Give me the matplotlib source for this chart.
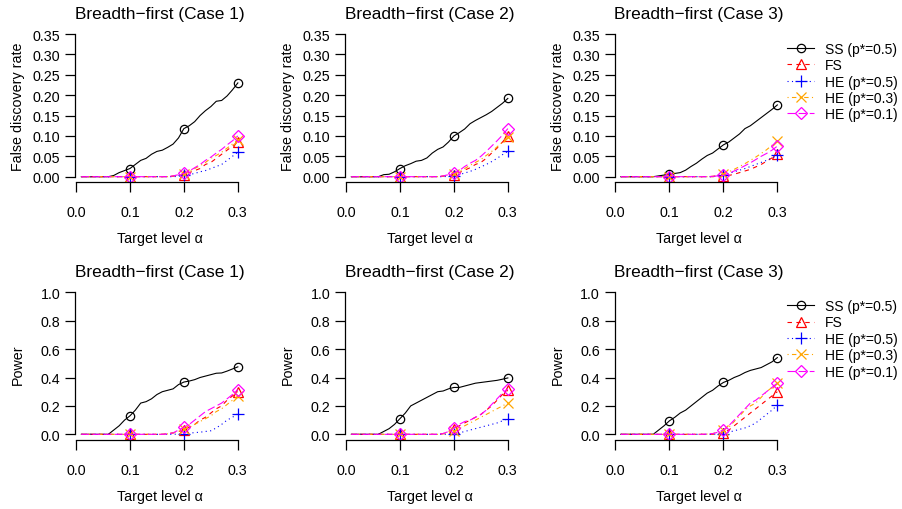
import numpy as np
import matplotlib
matplotlib.use("Agg")
import matplotlib.pyplot as plt

plt.rcParams['font.family'] = ['Liberation Sans', 'DejaVu Sans']

alpha = np.round(np.arange(1, 31) * 0.01, 2)

# ---- False discovery rate ----
fdr1_ss = [0, 0, 0, 0, 0, 0, 0.003, 0.01, 0.015, 0.02, 0.03, 0.04, 0.045, 0.055, 0.062, 0.065, 0.072, 0.08, 0.095, 0.118,
           0.125, 0.135, 0.15, 0.162, 0.172, 0.185, 0.187, 0.198, 0.213, 0.23]
fdr1_fs = [0, 0, 0, 0, 0, 0, 0, 0, 0, 0, 0, 0, 0, 0, 0, 0, 0, 0.001, 0.003, 0.005,
           0.01, 0.015, 0.02, 0.03, 0.035, 0.045, 0.055, 0.065, 0.075, 0.085]
fdr1_he5 = [0, 0, 0, 0, 0, 0, 0, 0, 0, 0, 0, 0, 0, 0, 0, 0, 0, 0, 0.001, 0.003,
            0.005, 0.008, 0.012, 0.015, 0.02, 0.025, 0.03, 0.04, 0.05, 0.06]
fdr1_he3 = [0, 0, 0, 0, 0, 0, 0, 0, 0, 0, 0, 0, 0, 0, 0, 0, 0, 0.002, 0.004, 0.007,
            0.012, 0.02, 0.027, 0.035, 0.045, 0.052, 0.06, 0.07, 0.08, 0.09]
fdr1_he1 = [0, 0, 0, 0, 0, 0, 0, 0, 0, 0, 0, 0, 0, 0, 0, 0, 0, 0.002, 0.005, 0.008,
            0.014, 0.022, 0.03, 0.04, 0.048, 0.058, 0.067, 0.078, 0.088, 0.1]

fdr2_ss = [0, 0, 0, 0, 0, 0, 0.005, 0.006, 0.012, 0.02, 0.027, 0.032, 0.038, 0.04, 0.046, 0.058, 0.067, 0.073, 0.085, 0.1,
           0.108, 0.117, 0.13, 0.138, 0.145, 0.152, 0.16, 0.17, 0.18, 0.192]
fdr2_fs = [0, 0, 0, 0, 0, 0, 0, 0, 0, 0, 0, 0, 0, 0, 0, 0, 0, 0.001, 0.003, 0.005,
           0.01, 0.016, 0.022, 0.03, 0.035, 0.045, 0.058, 0.07, 0.085, 0.1]
fdr2_he5 = [0, 0, 0, 0, 0, 0, 0, 0, 0, 0, 0, 0, 0, 0, 0, 0, 0, 0, 0.001, 0.002,
            0.005, 0.009, 0.013, 0.018, 0.024, 0.03, 0.037, 0.045, 0.054, 0.062]
fdr2_he3 = [0, 0, 0, 0, 0, 0, 0, 0, 0, 0, 0, 0, 0, 0, 0, 0, 0, 0.002, 0.004, 0.007,
            0.012, 0.02, 0.028, 0.035, 0.042, 0.052, 0.062, 0.073, 0.085, 0.098]
fdr2_he1 = [0, 0, 0, 0, 0, 0, 0, 0, 0, 0, 0, 0, 0, 0, 0, 0, 0, 0.002, 0.005, 0.009,
            0.015, 0.025, 0.033, 0.04, 0.05, 0.062, 0.075, 0.088, 0.102, 0.118]

fdr3_ss = [0, 0, 0, 0, 0, 0, 0, 0.002, 0.004, 0.006, 0.008, 0.01, 0.016, 0.025, 0.033, 0.043, 0.052, 0.058, 0.068, 0.078,
           0.085, 0.095, 0.105, 0.118, 0.125, 0.135, 0.145, 0.155, 0.165, 0.176]
fdr3_fs = [0, 0, 0, 0, 0, 0, 0, 0, 0, 0, 0, 0, 0, 0, 0, 0, 0, 0, 0.001, 0.002,
           0.003, 0.006, 0.01, 0.014, 0.018, 0.024, 0.03, 0.038, 0.046, 0.055]
fdr3_he5 = [0, 0, 0, 0, 0, 0, 0, 0, 0, 0, 0, 0, 0, 0, 0, 0, 0, 0, 0.002, 0.005,
            0.008, 0.012, 0.016, 0.02, 0.025, 0.03, 0.035, 0.04, 0.046, 0.052]
fdr3_he3 = [0, 0, 0, 0, 0, 0, 0, 0, 0, 0, 0, 0, 0, 0, 0, 0, 0, 0.001, 0.004, 0.007,
            0.012, 0.018, 0.025, 0.032, 0.04, 0.048, 0.057, 0.066, 0.077, 0.088]
fdr3_he1 = [0, 0, 0, 0, 0, 0, 0, 0, 0, 0, 0, 0, 0, 0, 0, 0, 0, 0.001, 0.002, 0.003,
            0.008, 0.014, 0.02, 0.027, 0.034, 0.042, 0.05, 0.057, 0.065, 0.075]

# ---- Power ----
pow1_ss = [0, 0, 0, 0, 0, 0, 0.03, 0.06, 0.1, 0.13, 0.17, 0.22, 0.23, 0.25, 0.28, 0.3, 0.31, 0.32, 0.35, 0.368,
           0.375, 0.385, 0.4, 0.41, 0.42, 0.43, 0.432, 0.445, 0.46, 0.475]
pow1_fs = [0, 0, 0, 0, 0, 0, 0, 0, 0, 0, 0, 0, 0, 0, 0, 0, 0.005, 0.01, 0.02, 0.03,
           0.05, 0.07, 0.1, 0.12, 0.15, 0.18, 0.2, 0.24, 0.27, 0.3]
pow1_he5 = [0, 0, 0, 0, 0, 0, 0, 0, 0, 0, 0, 0, 0, 0, 0, 0, 0, 0, 0.002, 0.005,
            0.008, 0.012, 0.015, 0.02, 0.025, 0.045, 0.07, 0.1, 0.12, 0.145]
pow1_he3 = [0, 0, 0, 0, 0, 0, 0, 0, 0, 0, 0, 0, 0, 0, 0, 0, 0.003, 0.01, 0.02, 0.035,
            0.05, 0.07, 0.09, 0.11, 0.13, 0.16, 0.18, 0.21, 0.24, 0.27]
pow1_he1 = [0, 0, 0, 0, 0, 0, 0, 0, 0, 0, 0, 0, 0, 0, 0, 0, 0.003, 0.01, 0.03, 0.05,
            0.07, 0.1, 0.13, 0.16, 0.18, 0.2, 0.22, 0.25, 0.28, 0.315]

pow2_ss = [0, 0, 0, 0, 0, 0, 0.02, 0.04, 0.07, 0.11, 0.15, 0.2, 0.22, 0.24, 0.26, 0.28, 0.3, 0.305, 0.32, 0.33,
           0.33, 0.34, 0.35, 0.36, 0.365, 0.37, 0.375, 0.38, 0.388, 0.397]
pow2_fs = [0, 0, 0, 0, 0, 0, 0, 0, 0, 0, 0, 0, 0, 0, 0, 0, 0, 0.005, 0.02, 0.04,
           0.06, 0.08, 0.1, 0.12, 0.14, 0.17, 0.2, 0.24, 0.28, 0.31]
pow2_he5 = [0, 0, 0, 0, 0, 0, 0, 0, 0, 0, 0, 0, 0, 0, 0, 0, 0, 0, 0, 0.002,
            0.01, 0.02, 0.03, 0.04, 0.05, 0.06, 0.07, 0.08, 0.095, 0.11]
pow2_he3 = [0, 0, 0, 0, 0, 0, 0, 0, 0, 0, 0, 0, 0, 0, 0, 0, 0, 0.003, 0.01, 0.02,
            0.04, 0.06, 0.08, 0.1, 0.12, 0.14, 0.16, 0.18, 0.2, 0.22]
pow2_he1 = [0, 0, 0, 0, 0, 0, 0, 0, 0, 0, 0, 0, 0, 0, 0, 0, 0, 0.005, 0.02, 0.045,
            0.07, 0.09, 0.1, 0.12, 0.14, 0.17, 0.21, 0.25, 0.29, 0.32]

pow3_ss = [0, 0, 0, 0, 0, 0, 0, 0.03, 0.06, 0.095, 0.12, 0.15, 0.17, 0.2, 0.23, 0.26, 0.29, 0.31, 0.34, 0.365,
           0.38, 0.4, 0.415, 0.435, 0.45, 0.46, 0.47, 0.49, 0.51, 0.54]
pow3_fs = [0, 0, 0, 0, 0, 0, 0, 0, 0, 0, 0, 0, 0, 0, 0, 0, 0, 0, 0.005, 0.01,
           0.03, 0.06, 0.09, 0.12, 0.15, 0.18, 0.21, 0.24, 0.27, 0.3]
pow3_he5 = [0, 0, 0, 0, 0, 0, 0, 0, 0, 0, 0, 0, 0, 0, 0, 0, 0, 0, 0.002, 0.005,
            0.015, 0.025, 0.035, 0.045, 0.06, 0.08, 0.11, 0.14, 0.17, 0.205]
pow3_he3 = [0, 0, 0, 0, 0, 0, 0, 0, 0, 0, 0, 0, 0, 0, 0, 0, 0.002, 0.005, 0.015, 0.03,
            0.05, 0.09, 0.13, 0.17, 0.2, 0.22, 0.26, 0.3, 0.33, 0.36]
pow3_he1 = [0, 0, 0, 0, 0, 0, 0, 0, 0, 0, 0, 0, 0, 0, 0, 0, 0.002, 0.005, 0.015, 0.03,
            0.06, 0.1, 0.14, 0.18, 0.22, 0.24, 0.27, 0.3, 0.33, 0.36]

titles = ["Breadth\u2212first (Case 1)", "Breadth\u2212first (Case 2)", "Breadth\u2212first (Case 3)"]
series_labels = ["SS (p*=0.5)", "FS", "HE (p*=0.5)", "HE (p*=0.3)", "HE (p*=0.1)"]
fdr_data = [[fdr1_ss, fdr1_fs, fdr1_he5, fdr1_he3, fdr1_he1],
            [fdr2_ss, fdr2_fs, fdr2_he5, fdr2_he3, fdr2_he1],
            [fdr3_ss, fdr3_fs, fdr3_he5, fdr3_he3, fdr3_he1]]
pow_data = [[pow1_ss, pow1_fs, pow1_he5, pow1_he3, pow1_he1],
            [pow2_ss, pow2_fs, pow2_he5, pow2_he3, pow2_he1],
            [pow3_ss, pow3_fs, pow3_he5, pow3_he3, pow3_he1]]

colors = ["black", "#FF0000", "#0000FF", "#FFA500", "#FF00FF"]
markers = ["o", "^", "+", "x", "D"]
msizes = [6, 7, 8, 7, 6]
dash_styles = [None, (4, 4), (1, 3), (1, 3, 4, 3), (7, 3)]

W, H = 903, 510
fig = plt.figure(figsize=(W / 100, H / 100), dpi=100)

FS_TICK = 10.3
FS_LEG = 10.0
FS_TITLE = 12.4

lefts = [75.1, 345.1, 614.6]
axw = 169.0
rows = [(29.3, 183.4), (287.6, 441.0)]
legend_offsets = [13.5, 12.5]
x_lo, x_hi = 0.01, 0.30
pad = 0.04 * (x_hi - x_lo)


def make_panel(left, top, bottom, data, ymax, yticks, yfmt, ylabel, title, legend_off=None):
    ax = fig.add_axes([left / W, 1 - bottom / H, axw / W, (bottom - top) / H])
    for i, ys in enumerate(data):
        kw = dict(color=colors[i], lw=0.8, marker=markers[i], ms=msizes[i],
                  mfc="none", mec=colors[i], mew=0.9, markevery=[9, 19, 29],
                  label=series_labels[i])
        line, = ax.plot(alpha, ys, **kw)
        if dash_styles[i] is not None:
            line.set_dashes(dash_styles[i])
    ax.set_xlim(x_lo - pad, x_hi + pad)
    ax.set_ylim(-0.04 * ymax, ymax * 1.04)
    for s in ["top", "right"]:
        ax.spines[s].set_visible(False)
    ax.spines["left"].set_bounds(0, ymax)
    ax.spines["bottom"].set_bounds(0, 0.3)
    for s in ["left", "bottom"]:
        ax.spines[s].set_linewidth(0.9)
    ax.set_xticks([0.0, 0.1, 0.2, 0.3])
    ax.set_xticklabels(["0.0", "0.1", "0.2", "0.3"])
    ax.set_yticks(yticks)
    ax.set_yticklabels([yfmt.format(v) for v in yticks])
    ax.tick_params(axis="x", direction="out", length=7, width=0.9, pad=9.5, labelsize=FS_TICK)
    ax.tick_params(axis="y", direction="out", length=7, width=0.9, pad=3.6, labelsize=FS_TICK)
    ax.set_xlabel("Target level \u03b1", fontsize=FS_TICK)
    ax.xaxis.set_label_coords(0.5, -55.6 / (bottom - top))
    ax.xaxis.label.set_va("center")
    ax.set_ylabel(ylabel, fontsize=FS_TICK)
    ax.yaxis.set_label_coords(-57 / axw, 0.5)
    ax.yaxis.label.set_va("center")
    fig.text((left + axw / 2) / W, 1 - (top - 10.3) / H, title, ha="center", va="baseline",
             fontsize=FS_TITLE)
    ax.patch.set_visible(False)
    if legend_off is not None:
        ax.legend(loc="upper left", bbox_to_anchor=(787 / W, 1 - (top + legend_off) / H),
                  bbox_transform=fig.transFigure, frameon=False, fontsize=FS_LEG,
                  borderpad=0, borderaxespad=0, handlelength=1.95, handletextpad=0.8,
                  labelspacing=0.17, numpoints=1)
    return ax


for c in range(3):
    make_panel(lefts[c], rows[0][0], rows[0][1], fdr_data[c], 0.35,
               [0, 0.05, 0.10, 0.15, 0.20, 0.25, 0.30, 0.35], "{:.2f}",
               "False discovery rate", titles[c],
               legend_off=legend_offsets[0] if c == 2 else None)
    make_panel(lefts[c], rows[1][0], rows[1][1], pow_data[c], 1.0,
               [0, 0.2, 0.4, 0.6, 0.8, 1.0], "{:.1f}",
               "Power", titles[c],
               legend_off=legend_offsets[1] if c == 2 else None)

fig.savefig("out.png", dpi=100)
